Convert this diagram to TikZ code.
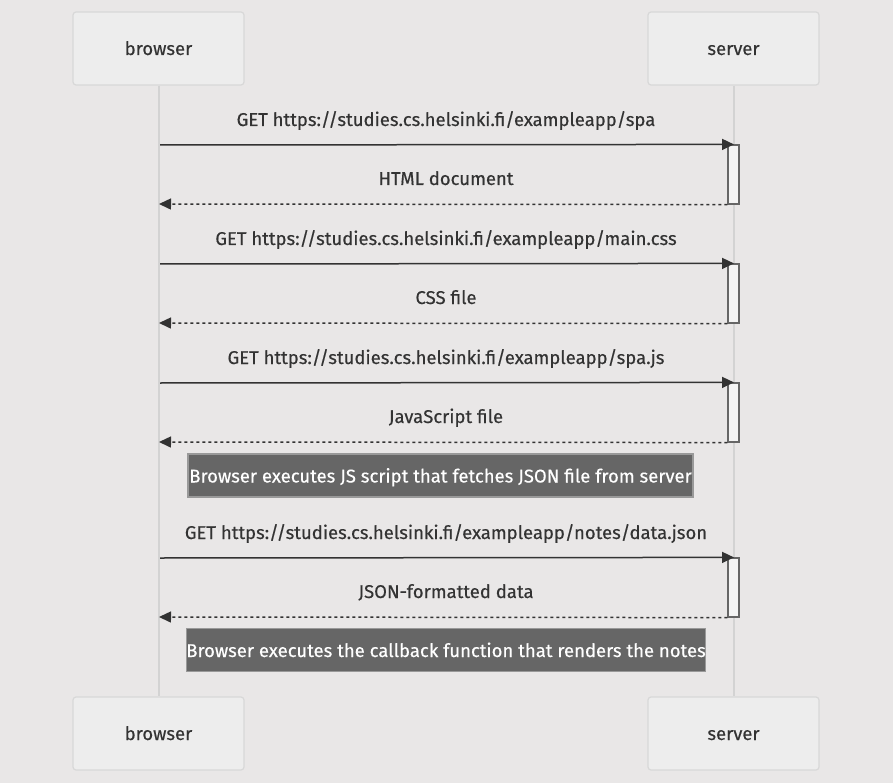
\documentclass[tikz,border=0pt]{standalone}
\usepackage{fontspec}
\setmainfont{Fira Sans}
\newfontfamily\dfont{Fira Sans}[FakeBold=0.4]
\usetikzlibrary{arrows.meta}
\definecolor{bgc}{HTML}{E9E7E7}
\definecolor{actfill}{HTML}{EDEDED}
\definecolor{actline}{HTML}{D8D8D8}
\definecolor{lifec}{HTML}{D3D3D3}
\definecolor{txt}{HTML}{333333}
\definecolor{notefill}{HTML}{666666}
\definecolor{noteline}{HTML}{999999}
\definecolor{actvfill}{HTML}{F4F4F4}
\tikzset{
  actor/.style={draw=actline, fill=actfill, line width=1.2pt, rounded corners=3pt,
    minimum width=171pt, minimum height=73pt, inner sep=0pt, text=txt,
    text height=13pt, text depth=0pt,
    font=\dfont\fontsize{18.5}{20}\selectfont},
  lifeline/.style={draw=lifec, line width=2pt},
  msg/.style={draw=txt, line width=1.5pt, -{Triangle[length=12pt,width=11pt]}},
  ret/.style={draw=txt, line width=1.5pt, dash pattern=on 3pt off 3pt, -{Triangle[length=12pt,width=11pt]}},
  lbl/.style={text=txt, font=\dfont\fontsize{18.5}{20}\selectfont, inner sep=0pt,
    text height=12pt, text depth=0pt},
  activ/.style={draw=notefill, fill=actvfill, line width=1.2pt, minimum width=11pt, minimum height=59pt, inner sep=0pt},
  notebox/.style={draw=noteline, fill=notefill, line width=1.2pt, text=white, inner sep=0pt,
    minimum height=43pt, text height=14pt, text depth=0pt, font=\dfont\fontsize{18.5}{20}\selectfont}
}
\begin{document}
\begin{tikzpicture}[x=1pt,y=-1pt]
\fill[bgc] (0,0) rectangle (893,783);
\useasboundingbox (0,0) rectangle (893,783);
% actors and lifelines
\node[actor] (bt) at (158.5,48.5) {browser};
\node[actor] (st) at (733.5,48.5) {server};
\node[actor] (bb) at (158.5,733.5) {browser};
\node[actor] (sb) at (733.5,733.5) {server};
\draw[lifeline] (bt.south) -- (bb.north);
\draw[lifeline] (st.south) -- (sb.north);
% activation boxes
\node[activ] (a1) at (733.5,174.5) {};
\node[activ] (a2) at (733.5,293.5) {};
\node[activ] (a3) at (733.5,412.5) {};
\node[activ] (a4) at (733.5,587.5) {};
% coordinates on browser lifeline
\coordinate (b1) at (160,145);
\coordinate (r1) at (159,204);
\coordinate (b2) at (160,264);
\coordinate (r2) at (159,323);
\coordinate (b3) at (160,383);
\coordinate (r3) at (159,442);
\coordinate (b4) at (160,558);
\coordinate (r4) at (159,617);
% messages
\draw[msg] (b1) -- (a1.north west -| 734,0);
\draw[ret] (a1.south west) -- (r1);
\draw[msg] (b2) -- (a2.north west -| 734,0);
\draw[ret] (a2.south west) -- (r2);
\draw[msg] (b3) -- (a3.north west -| 734,0);
\draw[ret] (a3.south west) -- (r3);
\draw[msg] (b4) -- (a4.north west -| 734,0);
\draw[ret] (a4.south west) -- (r4);
% labels
\node[lbl] (l1) at (446,120) {GET https://studies.cs.helsinki.fi/exampleapp/spa};
\node[lbl] (l2) at (446,179) {HTML document};
\node[lbl] (l3) at (446,239) {GET https://studies.cs.helsinki.fi/exampleapp/main.css};
\node[lbl] (l4) at (446,298) {CSS file};
\node[lbl] (l5) at (446,358) {GET https://studies.cs.helsinki.fi/exampleapp/spa.js};
\node[lbl] (l6) at (446,417) {JavaScript file};
\node[lbl] (l7) at (446,533) {GET https://studies.cs.helsinki.fi/exampleapp/notes/data.json};
\node[lbl] (l8) at (446,592) {JSON-formatted data};
% notes
\node[notebox, minimum width=505pt] (n1) at (440.5,475.5) {Browser executes JS script that fetches JSON file from server};
\node[notebox, minimum width=518pt] (n2) at (446,650) {Browser executes the callback function that renders the notes};
\end{tikzpicture}
\end{document}
